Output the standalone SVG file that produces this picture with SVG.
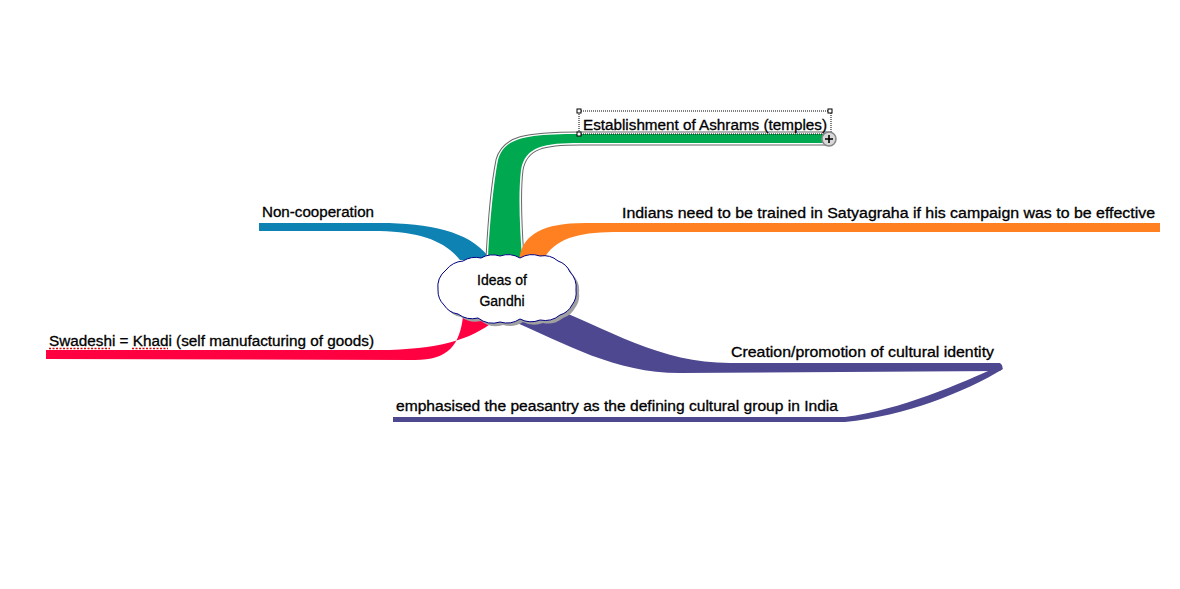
<svg xmlns="http://www.w3.org/2000/svg" width="1180" height="589" viewBox="0 0 1180 589">
<style>
.lbl{font-family:"Liberation Sans",Arial,sans-serif;font-size:14px;fill:#000;stroke:#000;stroke-width:0.3}
.ctr{font-family:"Liberation Sans",Arial,sans-serif;font-size:14px;fill:#000;stroke:#000;stroke-width:0.3;text-anchor:middle}
.handle{fill:#fff;stroke:#000;stroke-width:1}
.spell{stroke:#e00000;stroke-width:1.5;stroke-dasharray:2 1.5;fill:none}
</style>
<defs>
  <path id="cloud" d="M 438 290 A 22 22 0 0 1 446 270 A 24 24 0 0 1 463 261 A 24 24 0 0 1 481 258 A 24 24 0 0 1 500 256 A 24 24 0 0 1 520 258 A 24 24 0 0 1 540 256 A 22 22 0 0 1 558 261 A 20 20 0 0 1 570 272 A 22 22 0 0 1 576 290 A 20 20 0 0 1 572 305 A 20 20 0 0 1 560 315 A 24 24 0 0 1 540 320 A 24 24 0 0 1 520 319 A 24 24 0 0 1 500 322 A 24 24 0 0 1 478 318 A 24 24 0 0 1 458 314 A 20 20 0 0 1 444 305 A 20 20 0 0 1 438 290 Z"/>
  <path id="green" d="M 488 258 C 490 220 494 180 498 160 C 504 138 525 134 580 134 L 829 134 L 829 143 L 580 143 C 545 143 525 146 521 170 C 518 195 520 230 522 258 Z"/>
</defs>
<rect width="1180" height="589" fill="#fff"/>
<g id="connectors">
  <path id="c-noncoop" fill="#0F82B4" d="M 259 223 L 380 223 C 432 223 472 232 491 260 L 460 260 C 445 241 420 232 380 231 L 259 231 Z"/>
  <g id="c-ashrams">
    <use href="#green" fill="none" stroke="#666" stroke-width="5" stroke-linejoin="round"/>
    <use href="#green" fill="none" stroke="#fff" stroke-width="3" stroke-linejoin="round"/>
    <use href="#green" fill="#00A850"/>
  </g>
  <path id="c-indians" fill="#FF8020" d="M 519 260 C 522 236 540 223 585 223 L 1160 223 L 1160 232 L 620 232 C 580 232 556 237 543 260 Z"/>
  <path id="c-swadeshi" fill="#FF0040" d="M 46 350 L 390 350 C 445 348 476 338 500 316 L 463 316 C 460 345 448 360 415 360 L 46 359 Z"/>
  <path id="c-creation" fill="#4E4890" d="M 496 314 C 560 340 610 373 680 373 L 1000 371 Q 1005 367 1000 363 L 730 363 C 660 363 610 330 540 302 Z"/>
  <path id="c-emphasised" fill="#4E4890" d="M 1001 365 C 960 384 900 410 845 417 L 393 417 L 393 422 L 845 422 C 905 416 965 392 1003 369 Z"/>
</g>
<g id="center">
  <use href="#cloud" fill="#a0a0a0" transform="translate(3,3)"/>
  <use href="#cloud" fill="#fff" stroke="#000080" stroke-width="1"/>
  <text class="ctr" x="502" y="285">Ideas of</text>
  <text class="ctr" x="502" y="306">Gandhi</text>
</g>
<g id="n-ashrams">
  <rect x="579" y="111" width="252" height="23" fill="none" stroke="#000" stroke-width="1" stroke-dasharray="1 1"/>
  <rect class="handle" x="577" y="109" width="4" height="4"/>
  <rect class="handle" x="828" y="109" width="4" height="4"/>
  <rect class="handle" x="577" y="132" width="4" height="4"/>
  <text class="lbl" x="583" y="130" textLength="244" lengthAdjust="spacingAndGlyphs">Establishment of Ashrams (temples)</text>
  <circle cx="829" cy="139" r="7" fill="#d8d8d8" stroke="#888" stroke-width="1.5"/>
  <path d="M 825 139 H 833 M 829 135 V 143" stroke="#000" stroke-width="1.6"/>
</g>
<g id="n-noncoop">
  <text class="lbl" x="262" y="217" textLength="112" lengthAdjust="spacingAndGlyphs">Non-cooperation</text>
</g>
<g id="n-indians">
  <text class="lbl" x="622" y="218" textLength="533" lengthAdjust="spacingAndGlyphs">Indians need to be trained in Satyagraha if his campaign was to be effective</text>
</g>
<g id="n-swadeshi">
  <text class="lbl" x="49" y="346" textLength="325" lengthAdjust="spacingAndGlyphs">Swadeshi = Khadi (self manufacturing of goods)</text>
  <path class="spell" d="M 49 348.5 H 110 M 132 348.5 H 168"/>
</g>
<g id="n-creation">
  <text class="lbl" x="731" y="357" textLength="263" lengthAdjust="spacingAndGlyphs">Creation/promotion of cultural identity</text>
</g>
<g id="n-emphasised">
  <text class="lbl" x="396" y="411" textLength="442" lengthAdjust="spacingAndGlyphs">emphasised the peasantry as the defining cultural group in India</text>
</g>
</svg>
